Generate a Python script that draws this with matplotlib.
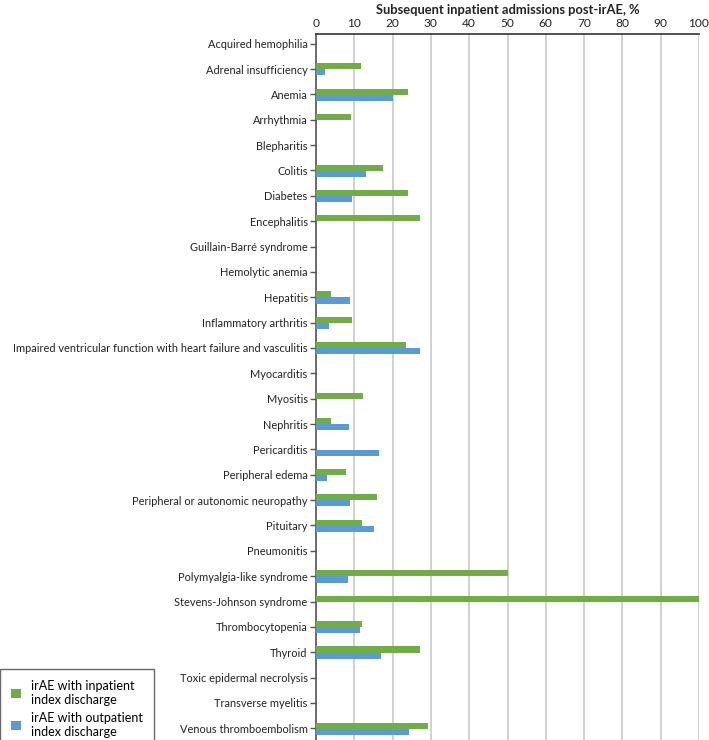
import matplotlib
matplotlib.use("Agg")
import matplotlib.pyplot as plt
import numpy as np
from matplotlib.patches import Patch

categories = [
    "Acquired hemophilia", "Adrenal insufficiency", "Anemia", "Arrhythmia",
    "Blepharitis", "Colitis", "Diabetes", "Encephalitis",
    "Guillain-Barré syndrome", "Hemolytic anemia", "Hepatitis",
    "Inflammatory arthritis",
    "Impaired ventricular function with heart failure and vasculitis",
    "Myocarditis", "Myositis", "Nephritis", "Pericarditis", "Peripheral edema",
    "Peripheral or autonomic neuropathy", "Pituitary", "Pneumonitis",
    "Polymyalgia-like syndrome", "Stevens-Johnson syndrome", "Thrombocytopenia",
    "Thyroid", "Toxic epidermal necrolysis", "Transverse myelitis",
    "Venous thromboembolism",
]
inpatient = [0, 11.7, 24.0, 9.1, 0, 17.4, 24.0, 27.2, 0, 0, 3.8, 9.3, 23.6, 0,
             12.4, 3.8, 0, 7.9, 15.8, 12.0, 0, 50.0, 100.0, 12.1, 27.2, 0, 0, 29.3]
outpatient = [0, 2.3, 20.0, 0, 0, 13.0, 9.4, 0, 0, 0, 9.0, 3.4, 27.1, 0,
              0, 8.5, 16.5, 3.0, 9.0, 15.2, 0, 8.3, 0, 11.6, 17.1, 0, 0, 24.4]
xticks = list(range(0, 101, 10))
title = "Subsequent inpatient admissions post-irAE, %"
legend_labels = ["irAE with inpatient\nindex discharge",
                 "irAE with outpatient\nindex discharge"]

green = "#70AD47"
blue = "#5B9BD5"

plt.rcParams['font.family'] = ['Lato', 'DejaVu Sans']

fig = plt.figure(figsize=(7.09, 7.40), dpi=100)
ax = fig.add_axes([316/709, 0.0, (699-316)/709, 1 - 33.5/740])

y = np.arange(len(categories))
h = 0.24
ax.barh(y - 0.11, inpatient, height=h, color=green, zorder=3)
ax.barh(y + 0.13, outpatient, height=h, color=blue, zorder=3)

ax.set_xlim(0, 100)
ax.set_ylim(len(categories) - 1 + 0.46, -0.4)
ax.set_yticks(y)
ax.set_yticklabels(categories, fontsize=7.9, color="#222222")
ax.set_xticks(xticks)
ax.xaxis.tick_top()
ax.xaxis.set_label_position("top")
ax.tick_params(axis="x", labelsize=8.6, length=0, pad=3, colors="#222222")
ax.tick_params(axis="y", length=4, width=1, color="#555555", pad=2)
ax.set_xlabel(title, fontsize=9.3, fontweight="bold", labelpad=3, color="#222222")

ax.grid(axis="x", color="#c8c8c8", linewidth=1.2, zorder=0)
ax.set_axisbelow(True)
for s in ["right", "bottom"]:
    ax.spines[s].set_visible(False)
ax.spines["top"].set_color("#333333")
ax.spines["top"].set_linewidth(1.2)
ax.spines["left"].set_color("#555555")
ax.spines["left"].set_linewidth(1.2)

handles = [Patch(facecolor=green), Patch(facecolor=blue)]
leg = fig.legend(handles, legend_labels, loc="lower left",
                 bbox_to_anchor=(0.0, -0.012), fontsize=9, frameon=True,
                 fancybox=False, edgecolor="#444444", handlelength=0.75,
                 handleheight=0.75, handletextpad=0.8, labelspacing=0.45,
                 borderpad=0.9, borderaxespad=0.0)
leg.get_frame().set_linewidth(1.0)

fig.savefig("out.png", dpi=100)
